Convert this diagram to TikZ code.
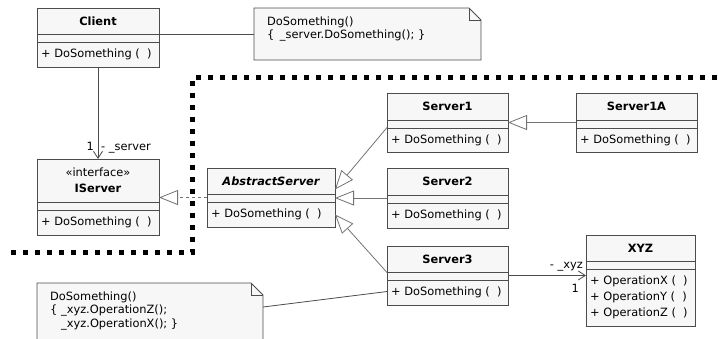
\documentclass[tikz,border=0pt]{standalone}
\usepackage{fontspec}
\setmainfont{DejaVu Sans}
\usetikzlibrary{arrows.meta}

\tikzset{
  classbox/.style={draw=black!70, fill=black!3, line width=.8pt, inner sep=0pt, outer sep=0pt, anchor=north west},
  classline/.style={draw=black!70, line width=.8pt},
  classname/.style={align=center, inner sep=0pt, font=\fontsize{11.4pt}{16pt}\selectfont\bfseries},
  classops/.style={anchor=west, align=left, inner sep=0pt, font=\fontsize{11.4pt}{16pt}\selectfont},
  notebox/.style={inner sep=0pt, outer sep=0pt, anchor=north west},
  notefill/.style={draw=black!70, fill=black!3, line width=.8pt},
  notetext/.style={anchor=north west, align=left, inner sep=0pt, font=\fontsize{11.4pt}{13.5pt}\selectfont},
  lbl/.style={inner sep=0pt, font=\fontsize{11.4pt}{13pt}\selectfont},
  gen/.style={draw=black!55, line width=.8pt, -{Triangle[open, length=19pt, width=15pt]}},
  real/.style={gen, dash pattern=on 3pt off 3pt},
  assoc/.style={draw=black!70, line width=.8pt, -{Straight Barb[length=7pt, width=9pt]}},
  fence/.style={line width=5pt, dash pattern=on 5pt off 7pt}
}

% name, x, y, width, title height, ops height, title, ops
\newcommand{\umlclass}[8]{%
  \node[classbox, minimum width=#4pt, minimum height=#5pt+8pt+#6pt] (#1) at (#2,#3) {};
  \draw[classline] ([yshift=-#5pt]#1.north west) -- ([yshift=-#5pt]#1.north east);
  \draw[classline] ([yshift=-#5pt-8pt]#1.north west) -- ([yshift=-#5pt-8pt]#1.north east);
  \node[classname] (#1-name) at ([yshift=-#5pt/2]#1.north) {#7};
  \node[classops] (#1-ops) at ([shift={(4pt,-#5pt-8pt-#6pt/2)}]#1.north west) {#8};
}

\begin{document}
\begin{tikzpicture}[x=1pt,y=-1pt]
  \path[use as bounding box] (0,0) rectangle (718,338);
  \clip (0,0) rectangle (718,338);

  \draw[fence] (11,252.5) -- (192,252.5) -- (192,77.5) -- (718,77.5);

  \umlclass{client}{37}{8}{122}{26}{25}{Client}{+ DoSomething (\ \ )}
  \umlclass{iserver}{37}{159}{122}{43}{25}{{\mdseries «interface»}\\IServer}{+ DoSomething (\ \ )}
  \umlclass{abstract}{207}{168}{128}{26}{25}{\itshape AbstractServer}{+ DoSomething (\ \ )}
  \umlclass{server1}{387}{93}{121}{27}{24}{Server1}{+ DoSomething (\ \ )}
  \umlclass{server1a}{576}{93}{121}{27}{24}{Server1A}{+ DoSomething (\ \ )}
  \umlclass{server2}{387}{168}{121}{27}{25}{Server2}{+ DoSomething (\ \ )}
  \umlclass{server3}{387}{246}{121}{26}{25}{Server3}{+ DoSomething (\ \ )}
  \umlclass{xyz}{586}{235}{109}{26}{57}{XYZ}{+ OperationX (\ \ )\\+ OperationY (\ \ )\\+ OperationZ (\ \ )}

  \node[notebox, minimum width=227pt, minimum height=52pt] (note1) at (254,8) {};
  \draw[notefill] (note1.north west) -- ([xshift=-12pt]note1.north east) -- ([yshift=-12pt]note1.north east)
    -- (note1.south east) -- (note1.south west) -- cycle;
  \draw[classline] ([xshift=-12pt]note1.north east) -- ([shift={(-12pt,-12pt)}]note1.north east) -- ([yshift=-12pt]note1.north east);
  \node[notetext] (note1-text) at ([shift={(13pt,-8.5pt)}]note1.north west) {DoSomething()\\\{\hspace{5.5pt}\_server.DoSomething(); \}};

  \node[notebox, minimum width=226pt, minimum height=64pt] (note2) at (37,283) {};
  \draw[notefill] (note2.north west) -- ([xshift=-12pt]note2.north east) -- ([yshift=-12pt]note2.north east)
    -- (note2.south east) -- (note2.south west) -- cycle;
  \draw[classline] ([xshift=-12pt]note2.north east) -- ([shift={(-12pt,-12pt)}]note2.north east) -- ([yshift=-12pt]note2.north east);
  \node[notetext] (note2-text) at ([shift={(13pt,-8.6pt)}]note2.north west) {DoSomething()\\\{ \_xyz.OperationZ();\\\hspace*{11pt}\_xyz.OperationX(); \}};

  \draw[classline] (note1.west -| client.east) -- (note1.west);
  \draw[assoc] (client.south) -- (iserver.north);
  \node[lbl, anchor=base east] (srvmult) at ([shift={(-4pt,9pt)}]iserver.north) {1};
  \node[lbl, anchor=base west] (srvrole) at ([shift={(3pt,9pt)}]iserver.north) {- \_server};

  \draw[real] (abstract.west) -- (abstract.west -| iserver.east);
  \draw[gen] ([yshift=-5pt]server1.west) -- ([yshift=8pt]abstract.east);
  \draw[gen] (server2.west) -- (server2.west -| abstract.east);
  \draw[gen] ([yshift=3pt]server3.west) -- ([yshift=-17pt]abstract.east);
  \draw[gen] (server1a.west) -- (server1a.west -| server1.east);

  \coordinate (xyzend) at (server3.east -| xyz.west);
  \draw[assoc] (server3.east) -- (xyzend);
  \node[lbl, anchor=base east] (xyzrole) at ([shift={(-3pt,7pt)}]xyzend) {- \_xyz};
  \node[lbl, anchor=base east] (xyzmult) at ([shift={(-7pt,-17pt)}]xyzend) {1};

  \draw[classline] ([yshift=8pt]note2.east) -- ([yshift=-16pt]server3.west);
\end{tikzpicture}
\end{document}
